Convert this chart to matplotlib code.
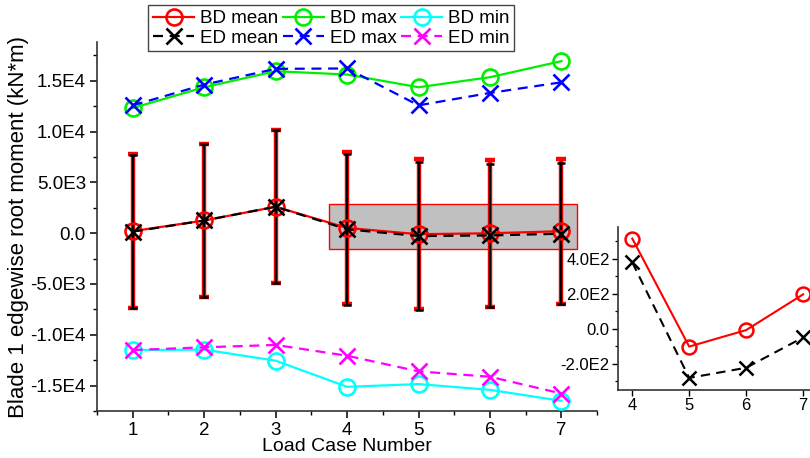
import matplotlib
matplotlib.use('Agg')
import matplotlib.pyplot as plt
from matplotlib.patches import Rectangle
from matplotlib.ticker import FuncFormatter, MultipleLocator
import numpy as np

plt.rcParams['font.family'] = ['Liberation Sans', 'DejaVu Sans']

cases = [1, 2, 3, 4, 5, 6, 7]
bd_mean = [200, 1250, 2600, 515, -102, -8, 196]
ed_mean = [150, 1250, 2600, 379, -281, -223, -50]
bd_std = [7550, 7560, 7550, 7450, 7400, 7250, 7120]
ed_std = [7550, 7560, 7550, 7420, 7270, 7070, 6940]
bd_max = [12320, 14360, 15940, 15610, 14360, 15350, 16930]
ed_max = [12580, 14620, 16170, 16210, 12580, 13800, 14850]
bd_min = [-11500, -11460, -12550, -15120, -14850, -15420, -16500]
ed_min = [-11500, -11230, -11000, -12060, -13600, -14130, -15780]

zoom_cases = cases[3:]


def sci(v, pos):
    if abs(v) < 1e-9:
        return '0.0'
    e = int(np.floor(np.log10(abs(v))))
    m = v / 10 ** e
    return f'{m:.1f}E{e}'


fig = plt.figure(figsize=(8.1, 4.58), dpi=100)
ax = fig.add_axes([0.1198, 0.1026, 0.6175, 0.8054])

ms = 11.5
mew = 1.9
lw = 1.6
dash = (0, (4.5, 3))

ax.add_patch(Rectangle((3.75, -1600), 3.47, 4450, facecolor='#c0c0c0',
                       edgecolor='red', lw=1, zorder=1))

ax.errorbar(cases, bd_mean, yerr=bd_std, fmt='none', ecolor='red', elinewidth=3.2,
            capsize=3.5, capthick=3.2, zorder=2)
ax.errorbar(cases, ed_mean, yerr=ed_std, fmt='none', ecolor='black', elinewidth=1.6,
            capsize=3, capthick=1.8, zorder=3)

l1, = ax.plot(cases, bd_mean, '-', color='red', marker='o', mfc='none', ms=ms, mew=mew, lw=lw, zorder=4, label='BD mean')
l2, = ax.plot(cases, ed_mean, ls=dash, color='black', marker='x', ms=ms, mew=mew, lw=lw, zorder=5, label='ED mean')
l3, = ax.plot(cases, bd_max, '-', color='#00ee00', marker='o', mfc='none', ms=ms, mew=mew, lw=lw, zorder=4, label='BD max')
l4, = ax.plot(cases, ed_max, ls=dash, color='blue', marker='x', ms=ms, mew=mew, lw=lw, zorder=5, label='ED max')
l5, = ax.plot(cases, bd_min, '-', color='cyan', marker='o', mfc='none', ms=ms, mew=mew, lw=lw, zorder=4, label='BD min')
l6, = ax.plot(cases, ed_min, ls=dash, color='magenta', marker='x', ms=ms, mew=mew, lw=lw, zorder=5, label='ED min')

ax.set_xlim(0.5, 7.5)
ax.set_ylim(-17500, 18800)
ax.xaxis.set_major_locator(MultipleLocator(1))
ax.xaxis.set_minor_locator(MultipleLocator(0.5))
ax.yaxis.set_major_locator(MultipleLocator(5000))
ax.yaxis.set_minor_locator(MultipleLocator(2500))
ax.yaxis.set_major_formatter(FuncFormatter(sci))
for s in ['top', 'right']:
    ax.spines[s].set_visible(False)
for s in ['left', 'bottom']:
    ax.spines[s].set_linewidth(1.2)
    ax.spines[s].set_color('#333333')
ax.tick_params(which='major', direction='out', length=5, width=1.1, labelsize=13.5, pad=3)
ax.tick_params(which='minor', direction='out', length=3, width=1)
ax.set_xlabel('Load Case Number', fontsize=14, labelpad=-1)
ax.set_ylabel('Blade 1 edgewise root moment (kN*m)', fontsize=16, labelpad=1)

fig.legend(handles=[l1, l2, l3, l4, l5, l6], ncol=3, loc='upper center',
           bbox_to_anchor=(0.409, 0.988), fontsize=13.5, frameon=True, fancybox=False,
           edgecolor='#444444', framealpha=1, handlelength=2.2, handletextpad=0.3,
           columnspacing=0.25, borderpad=0.25, labelspacing=0.12, borderaxespad=0)

# zoomed view of cases 4-7
axi = fig.add_axes([0.763, 0.1485, 0.246, 0.3555])
axi.plot(zoom_cases, bd_mean[3:], '-', color='red', marker='o', mfc='none', ms=10, mew=1.8, lw=1.5)
axi.plot(zoom_cases, ed_mean[3:], ls=dash, color='black', marker='x', ms=10, mew=1.8, lw=1.5)
axi.set_xlim(3.75, 7.25)
axi.set_ylim(-350, 580)
axi.xaxis.set_major_locator(MultipleLocator(1))
axi.yaxis.set_major_locator(MultipleLocator(200))
axi.yaxis.set_minor_locator(MultipleLocator(100))
axi.yaxis.set_major_formatter(FuncFormatter(sci))
for s in ['top', 'right']:
    axi.spines[s].set_visible(False)
for s in ['left', 'bottom']:
    axi.spines[s].set_linewidth(1.2)
    axi.spines[s].set_color('#333333')
axi.tick_params(which='major', direction='out', length=4, width=1, labelsize=12, pad=2)
axi.tick_params(which='minor', direction='out', length=2.5, width=0.9)

fig.savefig('out.png', dpi=100)
